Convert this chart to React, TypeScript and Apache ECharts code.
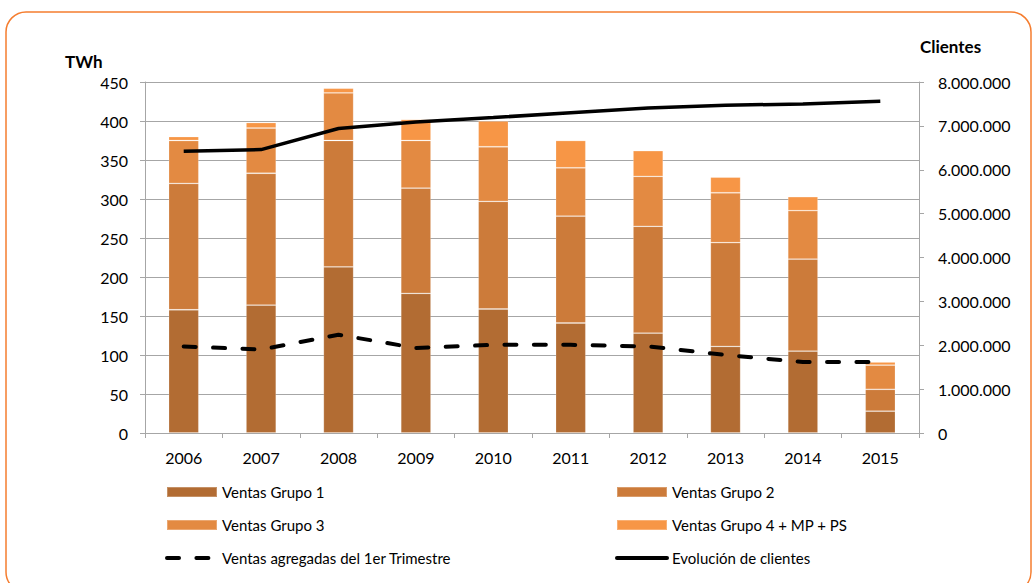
import React, { useEffect, useRef } from "react";
import * as echarts from "echarts";

const categories = ["2006", "2007", "2008", "2009", "2010", "2011", "2012", "2013", "2014", "2015"];
const grupo1 = [158, 164, 213, 179, 159, 141, 128, 111, 105, 28];
const grupo2 = [162, 169, 162, 135, 138, 137, 137, 133, 118, 28];
const grupo3 = [55, 58, 61, 61, 70, 62, 64, 64, 62, 31];
const grupo4 = [5, 7, 6, 27, 33, 35, 33, 20, 18, 4];
const ventasTrimestre = [111, 107, 126, 109, 113, 113, 111, 100, 91, 91];
const clientes = [6420000, 6460000, 6940000, 7090000, 7190000, 7300000, 7410000, 7470000, 7500000, 7560000];

const FONT = "Lato, 'Open Sans', sans-serif";
const GRID = "#A6A6A6";
const DASH = [12, 17.4];

const fmtDots = (v: number) => String(v).replace(/\B(?=(\d{3})+(?!\d))/g, ".");

export default function App() {
  const ref = useRef<HTMLDivElement>(null);
  useEffect(() => {
    if (!ref.current) return;
    const chart = echarts.init(ref.current, null, { renderer: "svg" });
    const barSeries = (name: string, data: number[], color: string) => ({
      name,
      type: "bar",
      stack: "ventas",
      data,
      barWidth: "39%",
      itemStyle: { color, borderColor: "rgba(255,255,255,0.25)", borderWidth: 0.8 },
    });
    const legendText = { fontSize: 15, lineHeight: 18, color: "#000", fontFamily: FONT };
    const hiddenSymbol = { opacity: 0 };
    chart.setOption({
      animation: false,
      textStyle: { fontFamily: FONT },
      grid: { left: 145, right: 114, top: 82, bottom: 150, containLabel: false, outerBoundsMode: "none" },
      graphic: [
        {
          type: "rect",
          shape: { x: 6, y: 12, width: 1025, height: 580, r: 20 },
          style: { fill: "none", stroke: "#F57D2F", lineWidth: 1.5 },
          silent: true,
        },
        {
          type: "text",
          left: 65,
          top: 53,
          style: { text: "TWh", font: `bold 17px ${FONT}`, fill: "#000" },
        },
        {
          type: "text",
          left: 920,
          top: 38,
          style: { text: "Clientes", font: `bold 17px ${FONT}`, fill: "#000" },
        },
      ],
      legend: [
        {
          orient: "vertical",
          left: 160,
          top: 478,
          itemWidth: 50,
          itemHeight: 10,
          itemGap: 15,
          textStyle: legendText,
          data: [
            { name: "Ventas Grupo 1", icon: "rect" },
            { name: "Ventas Grupo 3", icon: "rect" },
            {
              name: "Ventas agregadas del 1er Trimestre",
              itemStyle: hiddenSymbol,
              lineStyle: { width: 4, type: DASH, cap: "round", color: "#000" },
            },
          ],
        },
        {
          orient: "vertical",
          left: 610,
          top: 478,
          itemWidth: 50,
          itemHeight: 10,
          itemGap: 15,
          textStyle: legendText,
          data: [
            { name: "Ventas Grupo 2", icon: "rect" },
            { name: "Ventas Grupo 4 + MP + PS", icon: "rect" },
            {
              name: "Evolución de clientes",
              itemStyle: hiddenSymbol,
              lineStyle: { width: 4, color: "#000", cap: "round" },
            },
          ],
        },
      ],
      xAxis: {
        type: "category",
        data: categories,
        boundaryGap: true,
        axisLine: { lineStyle: { color: GRID, width: 1 } },
        axisTick: { show: true, length: 5, interval: 0, lineStyle: { color: GRID } },
        axisLabel: { fontSize: 16, color: "#000", margin: 16, fontFamily: FONT },
      },
      yAxis: [
        {
          type: "value",
          min: 0,
          max: 450,
          interval: 50,
          axisLine: { show: true, lineStyle: { color: GRID, width: 1 } },
          axisTick: { show: true, length: 5, lineStyle: { color: GRID } },
          splitLine: { show: true, lineStyle: { color: GRID, width: 1 } },
          axisLabel: { fontSize: 16, color: "#000", margin: 17, fontFamily: FONT },
        },
        {
          type: "value",
          min: 0,
          max: 8000000,
          interval: 1000000,
          position: "right",
          axisLine: { show: true, lineStyle: { color: GRID, width: 1 } },
          axisTick: { show: true, length: 5, lineStyle: { color: GRID } },
          splitLine: { show: false },
          axisLabel: { fontSize: 16, color: "#000", margin: 19, fontFamily: FONT, formatter: fmtDots },
        },
      ],
      series: [
        barSeries("Ventas Grupo 1", grupo1, "#B26C33"),
        barSeries("Ventas Grupo 2", grupo2, "#CC7B3A"),
        barSeries("Ventas Grupo 3", grupo3, "#E38A42"),
        barSeries("Ventas Grupo 4 + MP + PS", grupo4, "#F79646"),
        {
          name: "Ventas agregadas del 1er Trimestre",
          type: "line",
          yAxisIndex: 0,
          data: ventasTrimestre,
          symbol: "none",
          lineStyle: { color: "#000", width: 4, type: DASH, cap: "round" },
          itemStyle: { color: "rgba(0,0,0,0)" },
          z: 5,
        },
        {
          name: "Evolución de clientes",
          type: "line",
          yAxisIndex: 1,
          data: clientes,
          symbol: "none",
          lineStyle: { color: "#000", width: 3.5 },
          itemStyle: { color: "rgba(0,0,0,0)" },
          z: 5,
        },
      ],
    });
    return () => chart.dispose();
  }, []);
  return (
    <div
      ref={ref}
      style={{ position: "fixed", left: 0, top: 0, width: 1033, height: 583, background: "#fff" }}
    />
  );
}
